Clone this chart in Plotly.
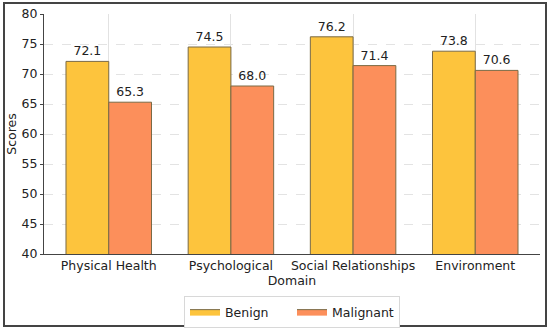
import plotly.graph_objects as go

categories = ["Physical Health", "Psychological", "Social Relationships", "Environment"]
benign = [72.1, 74.5, 76.2, 73.8]
malignant = [65.3, 68.0, 71.4, 70.6]
y_ticks = [40, 45, 50, 55, 60, 65, 70, 75, 80]

W, H = 550, 329
L, R, T, B = 44, 10, 14, 75
pw, ph = W - L - R, H - T - B

font = "DejaVu Sans"
c_ben, c_mal, c_edge = "#FDC43D", "#FC8F5B", "#7a6a45"
fig = go.Figure()
fig.add_trace(go.Bar(name="Benign", x=categories, y=benign, showlegend=False,
                     marker=dict(color=c_ben, line=dict(color=c_edge, width=1)),
                     text=[f"{v:.1f}" for v in benign], textposition="outside",
                     textfont=dict(size=12.5, color="#222"), cliponaxis=False))
fig.add_trace(go.Bar(name="Malignant", x=categories, y=malignant, showlegend=False,
                     marker=dict(color=c_mal, line=dict(color=c_edge, width=1)),
                     text=[f"{v:.1f}" for v in malignant], textposition="outside",
                     textfont=dict(size=12.5, color="#222"), cliponaxis=False))
# legend proxies (filled rectangles in legend)
for name, col in (("Benign", c_ben), ("Malignant", c_mal)):
    fig.add_trace(go.Scatter(name=name, x=[None], y=[None], mode="lines", fill="toself",
                             fillcolor=col, line=dict(color=c_edge, width=1)))

def px2paper_x(px):
    return (px - L) / pw

def px2paper_y(py):
    return (H - B - py) / ph

fig.update_layout(
    width=W, height=H,
    margin=dict(l=L, r=R, t=T, b=B, autoexpand=False),
    paper_bgcolor="white", plot_bgcolor="white",
    font=dict(family=font, size=12, color="#222"),
    barmode="group", bargap=0.3, bargroupgap=0,
    xaxis=dict(title=dict(text="Domain", standoff=2, font=dict(size=12.5)),
               showline=True, linecolor="#444", linewidth=1,
               showgrid=True, gridcolor="#e2e2e2", griddash="solid", gridwidth=1,
               ticks="", tickfont=dict(size=12.5), range=[-0.53, 3.53]),
    yaxis=dict(title=dict(text="Scores", standoff=2, font=dict(size=12.5)),
               range=[40, 80], tickvals=y_ticks,
               showline=True, linecolor="#444", linewidth=1,
               showgrid=True, gridcolor="#e3e3e3", griddash="dash",
               ticks="outside", ticklen=3, tickcolor="#444",
               tickfont=dict(size=12.5), zeroline=False),
    legend=dict(orientation="h", x=0.5, xanchor="center", y=px2paper_y(296), yanchor="top",
                bordercolor="#d8d8d8", borderwidth=1, bgcolor="white",
                font=dict(size=12.5), entrywidth=62, entrywidthmode="pixels",
                traceorder="normal"),
    showlegend=True,
)
fig.add_shape(type="rect", xref="paper", yref="paper",
              x0=px2paper_x(4), x1=px2paper_x(546), y0=px2paper_y(326), y1=px2paper_y(3),
              line=dict(color="#444", width=2), fillcolor="rgba(0,0,0,0)", layer="above")
fig.write_html("out.html", config={"displayModeBar": False},
               post_script="document.body.style.margin='0';document.body.style.overflow='hidden';")
